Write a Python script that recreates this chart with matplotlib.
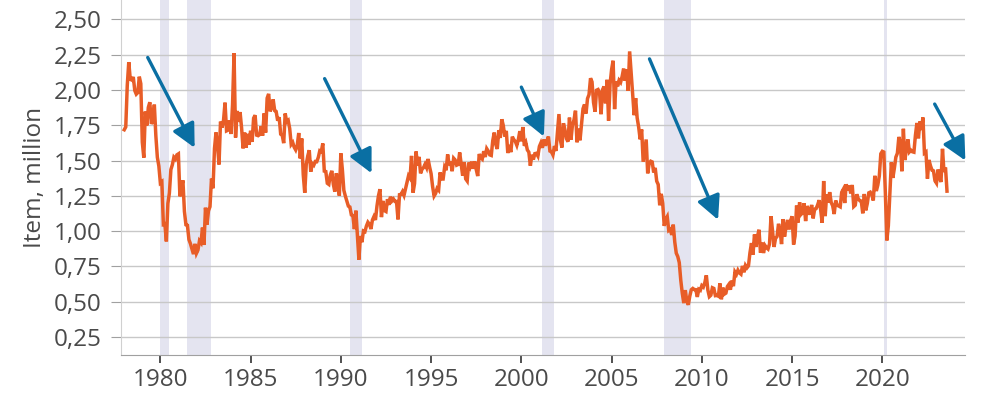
import matplotlib
matplotlib.use("Agg")
import matplotlib.pyplot as plt
from matplotlib.ticker import FuncFormatter, MultipleLocator

# monthly values, million units (saar), Jan 1978 onwards
start_year = 1978
starts = [
    1.718, 1.738, 2.032, 2.197, 2.075, 2.070, 2.092, 1.996, 1.970, 1.981, 2.094, 2.044,  # 1978
    1.630, 1.520, 1.847, 1.748, 1.876, 1.913, 1.760, 1.779, 1.896, 1.676, 1.523, 1.461,  # 1979
    1.341, 1.350, 1.047, 1.051, 0.927, 1.196, 1.269, 1.436, 1.471, 1.523, 1.510, 1.540,  # 1980
    1.547, 1.246, 1.306, 1.360, 1.140, 1.045, 1.041, 0.940, 0.911, 0.873, 0.837, 0.910,  # 1981
    0.843, 0.866, 0.931, 0.917, 1.025, 0.902, 1.166, 1.046, 1.144, 1.173, 1.372, 1.303,  # 1982
    1.586, 1.699, 1.606, 1.472, 1.776, 1.733, 1.785, 1.910, 1.710, 1.715, 1.785, 1.688,  # 1983
    1.897, 2.260, 1.663, 1.851, 1.774, 1.843, 1.732, 1.586, 1.698, 1.590, 1.689, 1.612,  # 1984
    1.711, 1.632, 1.800, 1.821, 1.680, 1.676, 1.684, 1.743, 1.676, 1.834, 1.698, 1.942,  # 1985
    1.972, 1.848, 1.876, 1.933, 1.854, 1.847, 1.782, 1.807, 1.687, 1.681, 1.623, 1.833,  # 1986
    1.774, 1.784, 1.726, 1.614, 1.628, 1.594, 1.575, 1.605, 1.695, 1.515, 1.656, 1.400,  # 1987
    1.271, 1.473, 1.532, 1.573, 1.421, 1.478, 1.467, 1.493, 1.492, 1.522, 1.569, 1.563,  # 1988
    1.621, 1.425, 1.422, 1.339, 1.331, 1.397, 1.427, 1.332, 1.279, 1.410, 1.351, 1.251,  # 1989
    1.551, 1.437, 1.289, 1.248, 1.212, 1.177, 1.171, 1.115, 1.110, 1.014, 1.145, 0.969,  # 1990
    0.798, 0.965, 0.921, 1.001, 0.996, 1.036, 1.063, 1.049, 1.015, 1.079, 1.103, 1.079,  # 1991
    1.176, 1.250, 1.297, 1.099, 1.214, 1.145, 1.139, 1.226, 1.186, 1.244, 1.214, 1.227,  # 1992
    1.210, 1.210, 1.083, 1.258, 1.260, 1.280, 1.254, 1.300, 1.343, 1.392, 1.376, 1.533,  # 1993
    1.272, 1.337, 1.564, 1.465, 1.526, 1.409, 1.439, 1.450, 1.474, 1.450, 1.511, 1.455,  # 1994
    1.407, 1.316, 1.249, 1.267, 1.302, 1.290, 1.416, 1.369, 1.369, 1.452, 1.431, 1.543,  # 1995
    1.467, 1.491, 1.424, 1.516, 1.504, 1.467, 1.472, 1.557, 1.475, 1.392, 1.489, 1.370,  # 1996
    1.355, 1.486, 1.457, 1.492, 1.442, 1.494, 1.437, 1.390, 1.546, 1.520, 1.510, 1.566,  # 1997
    1.525, 1.584, 1.567, 1.540, 1.536, 1.641, 1.698, 1.614, 1.582, 1.715, 1.660, 1.792,  # 1998
    1.748, 1.670, 1.710, 1.553, 1.611, 1.559, 1.669, 1.648, 1.635, 1.608, 1.648, 1.708,  # 1999
    1.636, 1.737, 1.604, 1.626, 1.575, 1.559, 1.463, 1.541, 1.507, 1.549, 1.551, 1.532,  # 2000
    1.600, 1.625, 1.590, 1.649, 1.605, 1.636, 1.670, 1.567, 1.562, 1.540, 1.602, 1.568,  # 2001
    1.698, 1.829, 1.642, 1.592, 1.764, 1.717, 1.655, 1.633, 1.804, 1.648, 1.753, 1.788,  # 2002
    1.853, 1.629, 1.726, 1.643, 1.751, 1.867, 1.897, 1.833, 1.939, 1.967, 2.083, 2.057,  # 2003
    1.911, 1.846, 1.998, 2.003, 1.981, 1.828, 2.002, 2.024, 1.905, 2.072, 1.782, 2.042,  # 2004
    2.144, 2.207, 1.864, 2.061, 2.025, 2.068, 2.054, 2.095, 2.151, 2.065, 2.147, 1.994,  # 2005
    2.273, 2.119, 1.969, 1.821, 1.942, 1.802, 1.737, 1.650, 1.720, 1.491, 1.570, 1.649,  # 2006
    1.409, 1.480, 1.495, 1.490, 1.415, 1.448, 1.354, 1.330, 1.183, 1.264, 1.197, 1.037,  # 2007
    1.084, 1.103, 1.005, 1.013, 0.973, 1.046, 0.923, 0.844, 0.820, 0.777, 0.652, 0.560,  # 2008
    0.490, 0.582, 0.505, 0.478, 0.540, 0.585, 0.594, 0.586, 0.585, 0.534, 0.588, 0.581,  # 2009
    0.614, 0.604, 0.636, 0.687, 0.583, 0.536, 0.546, 0.599, 0.594, 0.543, 0.545, 0.539,  # 2010
    0.630, 0.517, 0.600, 0.554, 0.561, 0.608, 0.623, 0.585, 0.650, 0.610, 0.711, 0.694,  # 2011
    0.723, 0.704, 0.695, 0.753, 0.708, 0.757, 0.740, 0.754, 0.847, 0.915, 0.833, 0.976,  # 2012
    0.888, 0.962, 1.010, 0.847, 0.919, 0.845, 0.898, 0.882, 0.873, 0.909, 1.105, 1.003,  # 2013
    0.888, 0.948, 0.962, 1.052, 1.005, 0.908, 1.085, 0.961, 1.034, 1.079, 1.012, 1.073,  # 2014
    1.105, 0.905, 0.966, 1.181, 1.061, 1.204, 1.119, 1.130, 1.197, 1.071, 1.177, 1.155,  # 2015
    1.116, 1.186, 1.090, 1.155, 1.160, 1.186, 1.219, 1.152, 1.059, 1.355, 1.106, 1.260,  # 2016
    1.202, 1.276, 1.203, 1.179, 1.121, 1.217, 1.183, 1.178, 1.172, 1.275, 1.295, 1.199,  # 2017
    1.332, 1.288, 1.323, 1.267, 1.327, 1.174, 1.184, 1.261, 1.229, 1.216, 1.213, 1.126,  # 2018
    1.263, 1.147, 1.195, 1.271, 1.276, 1.259, 1.217, 1.392, 1.284, 1.326, 1.391, 1.548,  # 2019
    1.565, 1.560, 1.276, 0.934, 1.038, 1.265, 1.487, 1.377, 1.445, 1.524, 1.551, 1.667,  # 2020
    1.625, 1.424, 1.725, 1.503, 1.580, 1.650, 1.561, 1.573, 1.562, 1.559, 1.678, 1.766,  # 2021
    1.657, 1.777, 1.716, 1.805, 1.553, 1.561, 1.371, 1.504, 1.463, 1.432, 1.427, 1.357,  # 2022
    1.340, 1.436, 1.380, 1.348, 1.583, 1.418, 1.451, 1.283,                              # 2023
]

# recession periods (start, end) as decimal years
rec_start = [1980.0, 1981.5, 1990.5, 2001.167, 2007.917, 2020.083]
rec_end = [1980.5, 1982.833, 1991.167, 2001.833, 2009.417, 2020.25]

# arrow annotations (x0, y0) -> (x1, y1)
arrow_from = [(1979.3, 2.23), (1989.1, 2.08), (2000.0, 2.02), (2007.1, 2.22), (2022.9, 1.90)]
arrow_to = [(1981.9, 1.59), (1991.7, 1.41), (2001.25, 1.67), (2010.9, 1.08), (2024.6, 1.50)]

xticks = [1980, 1985, 1990, 1995, 2000, 2005, 2010, 2015, 2020]

LINE = "#e85d27"
ARROW = "#0a6fa3"
SHADE = "#e4e4f0"
GRID = "#c8c8c8"
TXT = "#4a4a4a"
FS = 17.5

plt.rcParams['font.family'] = ['Open Sans', 'DejaVu Sans']

x = [start_year + i / 12 for i in range(len(starts))]

fig = plt.figure(figsize=(9.87, 4.01), dpi=100)
ax = fig.add_axes([0.1226, 0.1147, 0.8551, 0.8853])

for a, b in zip(rec_start, rec_end):
    ax.axvspan(a, b, color=SHADE, lw=0, zorder=0)

ax.plot(x, starts, color=LINE, lw=2.5, zorder=3, solid_joinstyle='miter')

for (x0, y0), (x1, y1) in zip(arrow_from, arrow_to):
    ax.annotate('', xy=(x1, y1), xytext=(x0, y0),
                arrowprops=dict(arrowstyle='-|>,head_length=0.9,head_width=0.45',
                                color=ARROW, lw=2.4, mutation_scale=16,
                                shrinkA=0, shrinkB=0), zorder=4)

ax.set_xlim(1977.82, 2024.58)
ax.set_ylim(0.1225, 2.637)
ax.yaxis.set_major_locator(MultipleLocator(0.25))
ax.yaxis.set_major_formatter(FuncFormatter(lambda v, p: f"{v:.2f}".replace('.', ',')))
ax.set_xticks(xticks)
ax.set_xticklabels([str(t) for t in xticks])
ax.grid(axis='y', color=GRID, lw=1.0)
ax.set_axisbelow(True)

for s in ['top', 'right']:
    ax.spines[s].set_visible(False)
ax.spines['left'].set_color('#d0d0d0')
ax.spines['bottom'].set_color('#a0a0a0')

ax.tick_params(axis='y', length=7, color='#a0a0a0', labelcolor=TXT, labelsize=FS, pad=7)
ax.tick_params(axis='x', length=6, width=1.4, color='#505050', labelcolor=TXT, labelsize=FS, pad=3)

ax.set_ylabel('Item, million', fontsize=FS, color=TXT)
ax.yaxis.set_label_coords(-0.088, 0.5)

fig.savefig('out.png', dpi=100)
